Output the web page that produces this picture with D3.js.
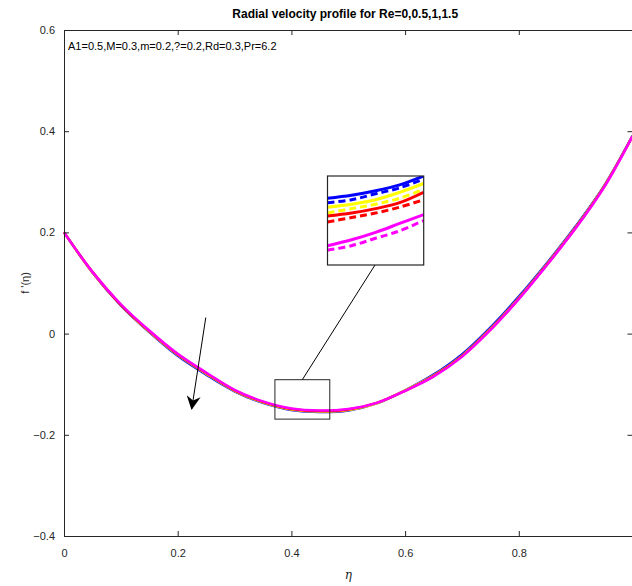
<!DOCTYPE html>
<html>
<head>
<meta charset="utf-8">
<script src="https://cdn.jsdelivr.net/npm/d3@7"></script>
<style>
  body { margin: 0; background: #fff; }
  svg { display: block; font-family: "Liberation Sans", Arial, sans-serif; }
</style>
</head>
<body>
<svg id="chart" width="632" height="586"></svg>
<script>
// eta grid and f'(eta) for Re = 0, 0.5, 1, 1.5
var eta = [0, 0.05, 0.1, 0.15, 0.2, 0.25, 0.3, 0.35, 0.4, 0.45, 0.5,
           0.55, 0.6, 0.65, 0.7, 0.75, 0.8, 0.85, 0.9, 0.95, 1.0];
var fBlue    = [0.200, 0.121, 0.056, 0.003, -0.044, -0.081, -0.114, -0.137, -0.151, -0.155, -0.152,
                -0.138, -0.112, -0.081, -0.041, 0.012, 0.073, 0.140, 0.212, 0.292, 0.391];
var fYellow  = [0.200, 0.121, 0.057, 0.004, -0.042, -0.079, -0.113, -0.136, -0.150, -0.154, -0.151,
                -0.138, -0.112, -0.083, -0.044, 0.009, 0.070, 0.138, 0.210, 0.291, 0.390];
var fRed     = [0.200, 0.122, 0.057, 0.005, -0.041, -0.078, -0.112, -0.135, -0.149, -0.153, -0.150,
                -0.137, -0.113, -0.084, -0.045, 0.008, 0.069, 0.137, 0.209, 0.290, 0.390];
var fMagenta = [0.200, 0.122, 0.058, 0.006, -0.040, -0.077, -0.111, -0.134, -0.148, -0.152, -0.149,
                -0.137, -0.113, -0.085, -0.046, 0.007, 0.068, 0.136, 0.208, 0.289, 0.390];

// zoomed-in detail (inset)
var etaZoom = [0.37, 0.395, 0.42, 0.445, 0.47];
var zBlue       = [-0.1515, -0.1513, -0.1510, -0.1506, -0.1500];
var zBlueDash   = [-0.1518, -0.1516, -0.1512, -0.1508, -0.1502];
var zYellow     = [-0.1521, -0.1519, -0.1516, -0.1511, -0.1505];
var zYellowDash = [-0.1525, -0.1522, -0.1519, -0.1515, -0.1509];
var zRed        = [-0.1527, -0.1525, -0.1522, -0.1518, -0.1511];
var zRedDash    = [-0.1531, -0.1528, -0.1525, -0.1521, -0.1516];
var zMagenta    = [-0.1547, -0.1543, -0.1538, -0.1532, -0.1526];
var zMagentaDash= [-0.1550, -0.1547, -0.1542, -0.1537, -0.1530];

var xTicks = [0, 0.2, 0.4, 0.6, 0.8];
var yTicks = [-0.4, -0.2, 0, 0.2, 0.4, 0.6];

var svg = d3.select("#chart");
var plotLeft = 64, plotRight = 632.5, plotTop = 30, plotBottom = 536;
var axisColor = "#262626";

var x = d3.scaleLinear().domain([0, 1]).range([plotLeft, plotRight]);
var y = d3.scaleLinear().domain([-0.4, 0.6]).range([plotBottom, plotTop]);

// main curves
var line = d3.line()
    .x(function(d, i) { return x(eta[i]); })
    .y(function(d) { return y(d); })
    .curve(d3.curveCatmullRom);

var series = [
    {data: fBlue, color: "#0000ff"},
    {data: fYellow, color: "#ffff00"},
    {data: fRed, color: "#ff0000"},
    {data: fMagenta, color: "#ff00ff"}
];
series.forEach(function(s) {
    svg.append("path")
        .attr("d", line(s.data))
        .attr("fill", "none")
        .attr("stroke", s.color)
        .attr("stroke-width", 2.5);
});

// axes, ticks inside like matlab
var gx = svg.append("g").attr("transform", "translate(0," + plotBottom + ")")
    .call(d3.axisBottom(x).tickValues(xTicks).tickSize(-5).tickPadding(13).tickFormat(d3.format("")));
var gxTop = svg.append("g").attr("transform", "translate(0," + plotTop + ")")
    .call(d3.axisTop(x).tickValues(xTicks).tickSize(-5).tickFormat(""));
var gy = svg.append("g").attr("transform", "translate(" + plotLeft + ",0)")
    .call(d3.axisLeft(y).tickValues(yTicks).tickSize(-5).tickPadding(9).tickFormat(d3.format("")));
var gyRight = svg.append("g").attr("transform", "translate(" + plotRight + ",0)")
    .call(d3.axisRight(y).tickValues(yTicks).tickSize(-5).tickFormat(""));

[gx, gxTop, gy, gyRight].forEach(function(g) {
    g.select(".domain").attr("stroke", axisColor).attr("stroke-width", 1);
    g.selectAll(".tick line").attr("stroke", axisColor);
    g.selectAll("text").attr("fill", axisColor)
        .style("font-family", "'Liberation Sans', Arial, sans-serif")
        .style("font-size", "11px");
});
gy.selectAll(".tick text").attr("dy", "0.32em");

// title and labels
svg.append("text")
    .attr("x", (plotLeft + plotRight) / 2 - 3).attr("y", 18)
    .attr("text-anchor", "middle")
    .style("font-size", "12px").style("font-weight", "bold")
    .attr("fill", "#000")
    .text("Radial velocity profile for Re=0,0.5,1,1.5");

svg.append("text")
    .attr("x", 68).attr("y", 50)
    .style("font-size", "11px")
    .attr("fill", "#000")
    .text("A1=0.5,M=0.3,m=0.2,?=0.2,Rd=0.3,Pr=6.2");

svg.append("text")
    .attr("x", (plotLeft + plotRight) / 2).attr("y", 579)
    .attr("text-anchor", "middle")
    .style("font-size", "12px").style("font-style", "italic")
    .style("font-family", "'DejaVu Serif', serif")
    .attr("fill", axisColor)
    .text("η");

svg.append("text")
    .attr("transform", "translate(29," + (plotTop + plotBottom) / 2 + ") rotate(-90)")
    .attr("text-anchor", "middle")
    .style("font-size", "11px")
    .attr("fill", axisColor)
    .text("f '(η)");

// arrow showing increasing Re
svg.append("defs").append("marker")
    .attr("id", "arrowHead")
    .attr("viewBox", "0 0 10 10")
    .attr("refX", 9).attr("refY", 5)
    .attr("markerWidth", 14).attr("markerHeight", 14)
    .attr("markerUnits", "userSpaceOnUse")
    .attr("orient", "auto")
    .append("path")
    .attr("d", "M0,0 L10,5 L0,10 L3,5 Z")
    .attr("fill", "#000");

svg.append("line")
    .attr("x1", x(0.2494)).attr("y1", y(0.0317))
    .attr("x2", x(0.2247)).attr("y2", y(-0.1485))
    .attr("stroke", "#000").attr("stroke-width", 1)
    .attr("marker-end", "url(#arrowHead)");

// small box around the zoomed region
var zx0 = 0.371, zx1 = 0.4675, zy0 = -0.169, zy1 = -0.0911;
svg.append("rect")
    .attr("x", x(zx0)).attr("y", y(zy1))
    .attr("width", x(zx1) - x(zx0)).attr("height", y(zy0) - y(zy1))
    .attr("fill", "none").attr("stroke", axisColor).attr("stroke-width", 1);

// inset
var ix = d3.scaleLinear().domain([0.37, 0.47]).range([327.5, 423.7]);
var iy = d3.scaleLinear().domain([-0.156, -0.150]).range([265, 176]);

svg.append("line")
    .attr("x1", 302.3).attr("y1", y(zy1))
    .attr("x2", 375).attr("y2", 265)
    .attr("stroke", "#000").attr("stroke-width", 1);

svg.append("clipPath").attr("id", "insetClip")
    .append("rect").attr("x", 327.5).attr("y", 176).attr("width", 96.2).attr("height", 89);

svg.append("rect")
    .attr("x", 327.5).attr("y", 176).attr("width", 96.2).attr("height", 89)
    .attr("fill", "#fff");

var insetLine = d3.line()
    .x(function(d, i) { return ix(etaZoom[i]); })
    .y(function(d) { return iy(d); })
    .curve(d3.curveCatmullRom);

var insetSeries = [
    {data: zBlue, color: "#0000ff", dash: null},
    {data: zBlueDash, color: "#0000ff", dash: "7,4"},
    {data: zYellow, color: "#ffff00", dash: null},
    {data: zYellowDash, color: "#ffff00", dash: "7,4"},
    {data: zRed, color: "#ff0000", dash: null},
    {data: zRedDash, color: "#ff0000", dash: "7,4"},
    {data: zMagenta, color: "#ff00ff", dash: null},
    {data: zMagentaDash, color: "#ff00ff", dash: "7,4"}
];
var gi = svg.append("g").attr("clip-path", "url(#insetClip)");
insetSeries.forEach(function(s) {
    gi.append("path")
        .attr("d", insetLine(s.data))
        .attr("fill", "none")
        .attr("stroke", s.color)
        .attr("stroke-width", 3)
        .attr("stroke-dasharray", s.dash);
});

svg.append("rect")
    .attr("x", 327.5).attr("y", 176).attr("width", 96.2).attr("height", 89)
    .attr("fill", "none").attr("stroke", axisColor).attr("stroke-width", 1.2);
</script>
</body>
</html>
